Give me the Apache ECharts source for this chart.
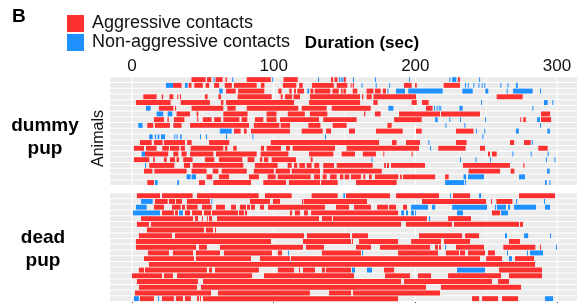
<!DOCTYPE html>
<html>
<head>
<meta charset="utf-8">
<style>
  html, body { margin: 0; padding: 0; background: #fff; }
  #main { width: 577px; height: 303px; }
</style>
<script src="https://cdn.jsdelivr.net/npm/echarts@6/dist/echarts.min.js"></script>
</head>
<body>
<div id="main"></div>
<script>
const groups = ['dummy pup', 'dead pup'];
const animalRows = [1, 2, 3, 4, 5, 6, 7, 8, 9, 10, 11, 12, 13, 14, 15, 16, 17, 18, 19];
const timeTicks = [0, 100, 200, 300];
const timeGrid = [0, 50, 100, 150, 200, 250, 300];

// one list of [start, end] in seconds per animal, top row first
const dummyAggressive = [
  [[42,52],[53,56],[59,64],[66,67],[81,98],[107,117],[140.5,142],[143,145],[149.5,151],[230,231.5]],
  [[29,35],[40,42],[44,50],[52,54.5],[58,61.5],[65.5,70.5],[72,88],[91,93.5],[106.5,116],[118,120.5],[127,142.5],[144.5,152],[154.3,155],[155.8,156.7],[192,197.4],[199.8,201],[220,231.5]],
  [[66.4,73.2],[75,93.4],[103.3,105.6],[111,112.7],[114.4,115.8],[116.7,121.4],[126,128],[129,140],[141.5,146],[147.5,148.7],[149.2,151],[155.8,159],[165.6,170.4],[171.5,175.5],[177,179.3]],
  [[8,17.4],[21,22],[26.4,29.2],[32,32.7],[33.9,34.6],[51.5,53.4],[61,62.8],[74.6,98.6],[105,106.4],[108,113],[114,118.6],[125.6,161],[162.4,163.3],[165.6,169.2],[170.4,200.5],[257.4,275.8]],
  [[2.8,27.3],[34.4,55],[62.8,64.5],[66.4,114.4],[125,161],[170.4,173.4],[197.4,201],[204.7,209.4]],
  [[19,29.2],[30.4,31],[42.1,64.5],[67.3,73.2],[81,117.4],[119.8,137.4],[141,168.5],[207.5,212.2]],
  [[31.5,41],[45.6,46.8],[64.5,81.6],[95,102],[110,122],[125.6,137.9],[163.8,164.7],[171.5,175.5],[188.5,217.4],[218.1,245.6],[288.7,295.1]],
  [[15.5,22.6],[25,26],[29.6,37],[46,46.8],[50,56.2],[58,62.8],[64.5,75.8],[77.4,81.4],[86.8,92.7],[95,102],[104.5,132],[135,158.6],[185,204.5],[274,274.7],[276.2,278],[288.7,295.8]],
  [[10.8,15],[16.2,26.8],[29.2,35],[41,82.6],[86,104],[105,111.5],[124.5,133],[141.7,151.5],[180.3,183.3]],
  [[72,76.7],[79,81],[84,111.5],[119.8,134.6],[137,140.5],[153.2,157.4],[172.2,191.1],[200.5,204.5],[228.7,241]],
  [],
  [[5.6,13.9],[15.5,21.6],[22.6,37.4],[39,42.1],[54.4,68.7],[98,174.4],[183.5,186.8],[193.4,203.3],[228.7,236.2],[266.8,269.7],[276.7,281.4]],
  [[1.4,8.5],[9.9,17.4],[21.4,26.1],[26.8,33.4],[34.4,37.4],[41.4,64.5],[65.6,67.3],[71.5,73.9],[91,93.2],[95,105.2],[108.7,111.5],[113.4,143.3],[151.5,202.6],[216.2,235.5],[245.6,249.2],[286.8,293.4]],
  [[9.2,25.6],[29.2,32.7],[35,38.6],[41,57.4],[59.3,88],[90.8,110.4],[125,142.1],[148,157.4],[163,172.2],[177.4,178.1],[197.4,198.1],[251.3,252.7],[254.1,257.4]],
  [[1.4,12.2],[15,16.2],[22.6,24.5],[26.8,30.4],[31.5,33.2],[36.2,42.8],[51.5,58.1],[61.4,77.9],[81.6,86.4],[90.4,92],[93.2,96.2],[98.6,115.8],[126.1,127.5]],
  [[12.2,29.9],[36.7,41],[42.8,78.6],[86.8,102.8],[109.9,112.7],[114.4,116.7],[118.1,122.1],[123.3,126.8],[128.7,132.2],[135,142.6],[144.5,169.9],[178,179.3],[180,181.4],[182.8,206.8],[233.6,266.8],[276.2,277]],
  [[8.5,14.4],[15.8,38.6],[42.1,52.7],[57,61],[63.3,81],[86,100.2],[101.4,111.5],[112.7,132.7],[135,176.3],[237.6,259.8],[267.3,269.9]],
  [[52.7,56.7],[61.4,68.5],[82.6,89.6],[95.8,101.4],[102.8,126.1],[128.5,132.7],[134.6,137.4],[139.8,144.5],[146.8,149.2],[150.1,153.4],[154.6,161.6],[163.3,164.7],[167.3,169.2],[171.5,188],[189.2,190.4],[191.3,214],[221,223.5]],
  [[10.8,15.5],[47.3,51.5],[57.4,84],[92.7,108.7],[110.8,132.7],[133.4,145.2],[158.1,186.8]]
];

const dummyNonAggressive = [
  [[57.5,58.3],[70.8,71.5],[99,99.7],[131.3,132],[146,146.7],[147.3,148],[148.5,149.2],[156,156.7],[171.5,172.2],[195.6,196.3],[224,224.7],[226,229],[245,245.7]],
  [[24,29],[37.4,39.3],[162,162.7],[172,172.7],[181.5,182.2],[235,235.7],[237,237.7],[241,241.7],[244.5,245.2],[246.8,247.5],[248.7,249.4],[260,260.7],[265,265.7],[271,272.3]],
  [[61.6,64],[123.8,125],[180.3,181],[186.4,192.7],[195,219.3],[233.2,240.5],[249.4,251.5],[264.5,265.2],[269,282.8],[288,288.7]],
  [],
  [[246.4,247.1],[290.8,293.4],[296.7,297.4]],
  [[9.9,13.2],[181,184.5],[213.2,213.9],[215,215.7],[216.5,217.2],[217.6,218.3],[231.1,233.4],[282.6,283.3]],
  [[17.4,22.1],[25.2,28.5]],
  [[214,215.8],[224,224.7],[231.5,232.2],[249.2,249.9],[286,288]],
  [[4.5,7.5],[221.2,221.9],[234.6,235.3],[288,288.7]],
  [[62,70.4],[242.8,243.5],[248.7,249.4],[271,273],[293.2,295]],
  [[12.2,14.6],[16.2,17],[18.1,19.3],[20.5,23.3],[29.9,30.6],[31.5,32.2],[33.9,35],[48,48.7],[52.2,53],[66.4,67],[85,85.6],[136.2,137],[247.3,248]],
  [[209.2,209.9],[282.2,282.9]],
  [[210.4,211.1]],
  [[6.8,9.2],[268.5,269.2],[281.4,282.1],[293.4,294.1]],
  [[169,169.7],[231.5,232.2],[242.4,243.1],[252.7,253.4],[292.2,292.9],[298.1,298.8]],
  [[9.2,9.9]],
  [[293,294.8]],
  [[38.6,41.4],[42.1,45.2],[234,235.8],[237.2,248.5],[273.2,277.4]],
  [[16.2,18.1],[32,33.2],[221,234.4],[235.1,235.8],[291.5,292.7],[294.6,295.3]]
];

const deadAggressive = [
  [[3.5,19.8],[21.2,42.8],[45.9,89.4],[93.9,112.7],[126.8,145.2],[151.1,182.1],[186.4,216.7],[226.6,238.6],[273.2,298.6]],
  [[16.2,25.2],[26.1,30.4],[31,35.3],[38.8,55.1],[83.3,97.4],[99.5,104.5],[120,120.7],[121.2,165.9],[204.7,249.9],[253.4,254.1],[257.2,268.5]],
  [[15.5,22.6],[28.2,34.4],[35.3,37.4],[38.6,46.4],[49.4,56.2],[59.3,65.6],[69.9,73.4],[76.2,80.5],[81.2,83.3],[84,86.8],[90.4,93.2],[96,136.2],[144,153.2],[156.7,168.7],[173,180.7],[181.5,186.4],[191.3,194.1]],
  [[21.2,29.6],[30.4,32.5],[37.4,41],[42.4,49.4],[50.8,55.8],[56.5,74.8],[75.5,79],[79.8,81.2],[111.5,113],[115,118.6],[121.4,124.2],[126.4,187.8],[254.1,259.8]],
  [[6.4,43.1],[44.5,46.6],[49.4,50.1],[52.9,53.6],[54.4,56.5],[60,132],[134.1,141.2],[141.9,208.2],[223.1,239.3]],
  [[3.5,12],[13.4,189.9],[193.4,225.9],[227.3,273.2],[273.9,276]],
  [[10.6,50.8],[52.2,57.2],[58.6,59.3]],
  [[4.9,28.2],[30.4,121.4],[123.5,153.9],[155.3,166.6],[202.6,233],[235.1,245]],
  [[2.8,98.1],[120.7,154.6],[155.3,156],[160.3,187.8],[197,218.1],[220.2,238.6],[266.1,273.9]],
  [[2.8,45.2],[47.3,52.9],[62.1,120.7],[122.8,135.5],[158.1,168.7],[175.1,210.4],[213.9,216],[216.7,218.1],[228.7,248.5],[262.1,284.7],[288,288.7]],
  [[11.3,26.1],[28.9,43.1],[45.2,62.1],[64.9,98.8],[103,105.9],[134.1,161.6],[187.8,216],[221.6,230.8],[231.5,235.1],[237.2,249.2],[251.3,256.2]],
  [[8.5,43.8],[45.2,84],[90.4,111.5],[112.2,245.6],[250,261.2],[270.4,283.8]],
  [[12,284.5]],
  [[4.9,8.5],[9.2,52.9],[54.4,56.5],[58.6,89.6],[103,114.4],[117.9,118.6],[120.7,129.2],[134.1,136.2],[136.9,154.6],[177.9,185],[259.1,289.4]],
  [[0,21.2],[22.6,28.9],[31.8,84.7],[93.2,156.7],[178.6,196.2],[201.9,211.1],[223.1,260.5],[266.1,289.4]],
  [[3.5,46.6],[50.1,189.9],[192,254.1],[258.4,266.1]],
  [[4.9,45.9],[48.7,207.5],[218.1,274.6]],
  [[2.1,55.8],[60.7,125.6],[139.1,154.6],[156,217.4]],
  [[5.6,15.5],[21.2,29.6],[31,36],[37.4,41.6],[45.9,47.3],[48,48.7],[50.1,187.8],[240,245],[247.1,258.4],[261.2,272.5]]
];

const deadNonAggressive = [
  [[149.2,150.4],[224.5,225.2],[245,246.4]],
  [[6.4,14.6],[56,56.7],[271.1,271.8],[290.8,291.5]],
  [[2.8,10.4],[197,209],[211.8,214],[226,250.6],[256.2,256.9],[257.6,264],[265.4,266.8],[269.6,285.2],[291.5,295.1]],
  [[0.7,19.8],[33.2,36],[190,192],[193.4,194.8],[197,199],[199.8,200.5],[229.4,233.6],[260.5,265.4]],
  [[209.6,210.4]],
  [],
  [],
  [[263.3,264.7],[276.8,279.6],[295.1,295.8]],
  [],
  [[221,221.7],[299.3,300]],
  [[110.1,110.8],[162.4,163.1],[264.7,265.4],[278.8,279.5],[281,290.1]],
  [[266.1,268.2]],
  [],
  [[155.3,157.4],[165.9,169.4],[229.4,249.2]],
  [],
  [],
  [],
  [],
  [[1.4,4.9],[18.4,19.1],[291.5,297.2]]
];

const RED = '#FF3030';
const BLUE = '#1E90FF';
const FONT = 'Liberation Sans, Arial, Helvetica, sans-serif';

const chart = echarts.init(document.getElementById('main'));

// flatten per-animal lists into [start, end, row]
function toItems(rows) {
  const items = [];
  rows.forEach((bouts, i) => {
    bouts.forEach(b => items.push([b[0], b[1], i + 1]));
  });
  return items;
}

function renderBand(params, api) {
  const cs = params.coordSys;
  const y = api.coord([0, api.value(0)])[1];
  const h = api.size([0, 1])[1] * 0.82;
  return {
    type: 'rect',
    shape: { x: cs.x, y: y - h / 2, width: cs.width, height: h },
    style: { fill: '#EBEBEB' }
  };
}

function renderGridLine(params, api) {
  const cs = params.coordSys;
  const v = api.value(0);
  const x = api.coord([v, 1])[0];
  return {
    type: 'line',
    shape: { x1: x, y1: cs.y, x2: x, y2: cs.y + cs.height },
    style: { stroke: '#fff', lineWidth: v % 100 === 0 ? 1.1 : 0.6 }
  };
}

function renderBout(params, api) {
  const a = api.coord([api.value(0), api.value(2)]);
  const b = api.coord([api.value(1), api.value(2)]);
  const h = api.size([0, 1])[1] * 0.86;
  return {
    type: 'rect',
    shape: { x: a[0], y: a[1] - h / 2, width: Math.max(b[0] - a[0], 1), height: h },
    style: { fill: api.visual('color') }
  };
}

const panels = [
  { aggressive: dummyAggressive, nonAggressive: dummyNonAggressive },
  { aggressive: deadAggressive, nonAggressive: deadNonAggressive }
];

const series = [];
panels.forEach((p, g) => {
  series.push({
    type: 'custom', xAxisIndex: g, yAxisIndex: g, silent: true, z: 1,
    renderItem: renderBand, data: animalRows.map(r => [r])
  });
  series.push({
    type: 'custom', xAxisIndex: g, yAxisIndex: g, silent: true, z: 2,
    renderItem: renderGridLine, data: timeGrid.map(v => [v])
  });
  series.push({
    name: 'Aggressive contacts', type: 'custom', xAxisIndex: g, yAxisIndex: g, z: 3,
    itemStyle: { color: RED }, renderItem: renderBout, data: toItems(p.aggressive)
  });
  series.push({
    name: 'Non-aggressive contacts', type: 'custom', xAxisIndex: g, yAxisIndex: g, z: 4,
    itemStyle: { color: BLUE }, renderItem: renderBout, data: toItems(p.nonAggressive)
  });
});

const xMin = -15.5, xMax = 314.1;

const yAxisBase = {
  type: 'value', inverse: true, min: 0.4, max: 19.6,
  axisLine: { show: false },
  axisTick: { show: true, customValues: animalRows, length: 2.5, lineStyle: { color: '#333', width: 1 } },
  axisLabel: { show: false },
  splitLine: { show: false }
};

chart.setOption({
  animation: false,
  textStyle: { fontFamily: FONT },
  legend: {
    data: ['Aggressive contacts', 'Non-aggressive contacts'],
    orient: 'vertical', left: 62, top: 9.5,
    icon: 'rect', itemWidth: 17, itemHeight: 17, itemGap: 1,
    selectedMode: false,
    textStyle: { fontSize: 18, color: '#111', fontFamily: FONT, padding: [0, 0, 0, 3] }
  },
  grid: [
    { left: 110, width: 467, top: 76.2, height: 109.8 },
    { left: 110, width: 467, top: 192.3, height: 109.8 }
  ],
  xAxis: [
    {
      gridIndex: 0, type: 'value', position: 'top', min: xMin, max: xMax,
      axisLine: { show: false }, axisTick: { show: false }, splitLine: { show: false },
      axisLabel: { customValues: timeTicks, fontSize: 17, color: '#111', margin: 1, fontFamily: FONT }
    },
    {
      gridIndex: 1, type: 'value', position: 'bottom', min: xMin, max: xMax,
      axisLine: { show: false }, splitLine: { show: false },
      axisTick: { show: true, customValues: timeTicks, length: 3, lineStyle: { color: '#333' } },
      axisLabel: { show: false }
    }
  ],
  yAxis: [
    Object.assign({ gridIndex: 0 }, yAxisBase),
    Object.assign({ gridIndex: 1 }, yAxisBase)
  ],
  graphic: [
    { type: 'text', x: 12, y: 16.5, style: { text: 'B', font: 'bold 19px ' + FONT, fill: '#000', verticalAlign: 'middle', textVerticalAlign: 'middle' } },
    { type: 'text', x: 362, y: 43.5, style: { text: 'Duration (sec)', font: 'bold 17px ' + FONT, fill: '#000', align: 'center', textAlign: 'center', verticalAlign: 'middle', textVerticalAlign: 'middle' } },
    { type: 'text', x: 98.5, y: 138.5, rotation: Math.PI / 2, style: { text: 'Animals', font: '16px ' + FONT, fill: '#111', align: 'center', textAlign: 'center', verticalAlign: 'middle', textVerticalAlign: 'middle' } },
    { type: 'text', x: 45, y: 137.5, style: { text: groups[0].replace(' ', '\n'), font: 'bold 19px ' + FONT, lineHeight: 23.3, fill: '#000', align: 'center', textAlign: 'center', verticalAlign: 'middle', textVerticalAlign: 'middle' } },
    { type: 'text', x: 43, y: 249.2, style: { text: groups[1].replace(' ', '\n'), font: 'bold 19px ' + FONT, lineHeight: 23.7, fill: '#000', align: 'center', textAlign: 'center', verticalAlign: 'middle', textVerticalAlign: 'middle' } }
  ],
  series: series
});
</script>
</body>
</html>
